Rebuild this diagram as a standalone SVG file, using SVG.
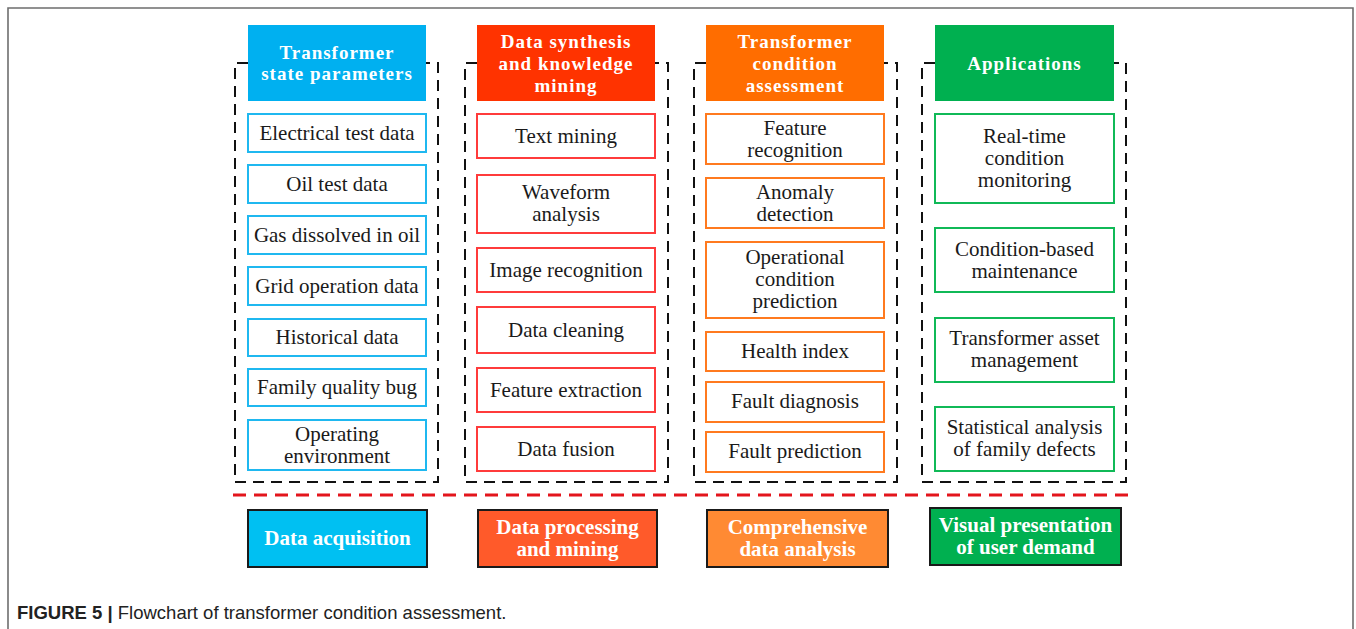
<svg xmlns="http://www.w3.org/2000/svg" width="1356" height="629" viewBox="0 0 1356 629">
<style>
.frame{fill:none;stroke:#6e6e6e;stroke-width:1.6}
.dash{fill:none;stroke:#111;stroke-width:2;stroke-dasharray:11 7}
.red{fill:none;stroke:#E3151C;stroke-width:3;stroke-dasharray:13 8}
.hd{font-family:"Liberation Serif",serif;font-weight:bold;font-size:19px;fill:#fff;text-anchor:middle;letter-spacing:1px}
.it{font-family:"Liberation Serif",serif;font-size:21px;fill:#1a1a1a;text-anchor:middle}
.bt{font-family:"Liberation Serif",serif;font-weight:bold;font-size:21px;fill:#fff;text-anchor:middle}
.c1{fill:#fff;stroke:#1FB8F0;stroke-width:2}
.c2{fill:#fff;stroke:#FF3B3B;stroke-width:2}
.c3{fill:#fff;stroke:#FF7A1F;stroke-width:2}
.c4{fill:#fff;stroke:#10B957;stroke-width:2}
.bb{stroke:#1a1a1a;stroke-width:2}
.cap{font-family:"Liberation Sans",sans-serif;font-size:18.5px;fill:#222}
</style>
<rect width="1356" height="629" fill="#fff"/>
<path class="frame" d="M8,629 V8 H1353 V629"/>

<g id="connectors">
<path class="dash" d="M248,63 H235 V482 H438 V63 H426"/>
<path class="dash" d="M477,63 H465 V482 H668 V63 H655"/>
<path class="dash" d="M706,63 H694 V482 H897 V63 H884"/>
<path class="dash" d="M935,63 H922 V482 H1126 V63 H1114"/>
<path class="red" d="M233,495 H1130"/>
</g>

<g id="col1">
<rect x="248" y="25" width="178" height="76" fill="#00B0F0"/>
<text class="hd" x="337" y="59">Transformer</text>
<text class="hd" x="337" y="80">state parameters</text>
<rect class="c1" x="248" y="114" width="178" height="38"/><text class="it" x="337" y="140">Electrical test data</text>
<rect class="c1" x="248" y="165" width="178" height="38"/><text class="it" x="337" y="191">Oil test data</text>
<rect class="c1" x="248" y="216" width="178" height="38"/><text class="it" x="337" y="242">Gas dissolved in oil</text>
<rect class="c1" x="248" y="267" width="178" height="38"/><text class="it" x="337" y="293">Grid operation data</text>
<rect class="c1" x="248" y="319" width="178" height="37"/><text class="it" x="337" y="344">Historical data</text>
<rect class="c1" x="248" y="369" width="178" height="37"/><text class="it" x="337" y="394">Family quality bug</text>
<rect class="c1" x="248" y="420" width="178" height="50"/><text class="it" x="337" y="441">Operating</text><text class="it" x="337" y="463">environment</text>
</g>

<g id="col2">
<rect x="477" y="25" width="178" height="76" fill="#FF3300"/>
<text class="hd" x="566" y="48">Data synthesis</text>
<text class="hd" x="566" y="70">and knowledge</text>
<text class="hd" x="566" y="92">mining</text>
<rect class="c2" x="477" y="114" width="178" height="44"/><text class="it" x="566" y="143">Text mining</text>
<rect class="c2" x="477" y="175" width="178" height="58"/><text class="it" x="566" y="199">Waveform</text><text class="it" x="566" y="221">analysis</text>
<rect class="c2" x="477" y="248" width="178" height="44"/><text class="it" x="566" y="277">Image recognition</text>
<rect class="c2" x="477" y="307" width="178" height="46"/><text class="it" x="566" y="337">Data cleaning</text>
<rect class="c2" x="477" y="368" width="178" height="44"/><text class="it" x="566" y="397">Feature extraction</text>
<rect class="c2" x="477" y="427" width="178" height="44"/><text class="it" x="566" y="456">Data fusion</text>
</g>

<g id="col3">
<rect x="706" y="25" width="178" height="76" fill="#FF6D00"/>
<text class="hd" x="795" y="48">Transformer</text>
<text class="hd" x="795" y="70">condition</text>
<text class="hd" x="795" y="92">assessment</text>
<rect class="c3" x="706" y="114" width="178" height="50"/><text class="it" x="795" y="135">Feature</text><text class="it" x="795" y="157">recognition</text>
<rect class="c3" x="706" y="178" width="178" height="50"/><text class="it" x="795" y="199">Anomaly</text><text class="it" x="795" y="221">detection</text>
<rect class="c3" x="706" y="242" width="178" height="76"/><text class="it" x="795" y="264">Operational</text><text class="it" x="795" y="286">condition</text><text class="it" x="795" y="308">prediction</text>
<rect class="c3" x="706" y="332" width="178" height="39"/><text class="it" x="795" y="358">Health index</text>
<rect class="c3" x="706" y="382" width="178" height="40"/><text class="it" x="795" y="408">Fault diagnosis</text>
<rect class="c3" x="706" y="432" width="178" height="40"/><text class="it" x="795" y="458">Fault prediction</text>
</g>

<g id="col4">
<rect x="935" y="25" width="179" height="76" fill="#00B050"/>
<text class="hd" x="1024.5" y="70">Applications</text>
<rect class="c4" x="935" y="114" width="179" height="89"/><text class="it" x="1024.5" y="143">Real-time</text><text class="it" x="1024.5" y="165">condition</text><text class="it" x="1024.5" y="187">monitoring</text>
<rect class="c4" x="935" y="228" width="179" height="64"/><text class="it" x="1024.5" y="256">Condition-based</text><text class="it" x="1024.5" y="278">maintenance</text>
<rect class="c4" x="935" y="318" width="179" height="64"/><text class="it" x="1024.5" y="345">Transformer asset</text><text class="it" x="1024.5" y="367">management</text>
<rect class="c4" x="935" y="407" width="179" height="64"/><text class="it" x="1024.5" y="434">Statistical analysis</text><text class="it" x="1024.5" y="456">of family defects</text>
</g>

<g id="bottom1">
<rect class="bb" x="248" y="510" width="179" height="57" fill="#00C0F2"/>
<text class="bt" x="337.5" y="545">Data acquisition</text>
</g>
<g id="bottom2">
<rect class="bb" x="478" y="510" width="179" height="57" fill="#FF5A2A"/>
<text class="bt" x="567.5" y="534">Data processing</text>
<text class="bt" x="567.5" y="556">and mining</text>
</g>
<g id="bottom3">
<rect class="bb" x="707" y="510" width="181" height="57" fill="#FF8A33"/>
<text class="bt" x="797.5" y="534">Comprehensive</text>
<text class="bt" x="797.5" y="556">data analysis</text>
</g>
<g id="bottom4">
<rect class="bb" x="930" y="508" width="191" height="57" fill="#00B050"/>
<text class="bt" x="1025.5" y="532">Visual presentation</text>
<text class="bt" x="1025.5" y="554">of user demand</text>
</g>

<text class="cap" x="17" y="619"><tspan font-weight="bold">FIGURE 5 |</tspan> Flowchart of transformer condition assessment.</text>
</svg>
